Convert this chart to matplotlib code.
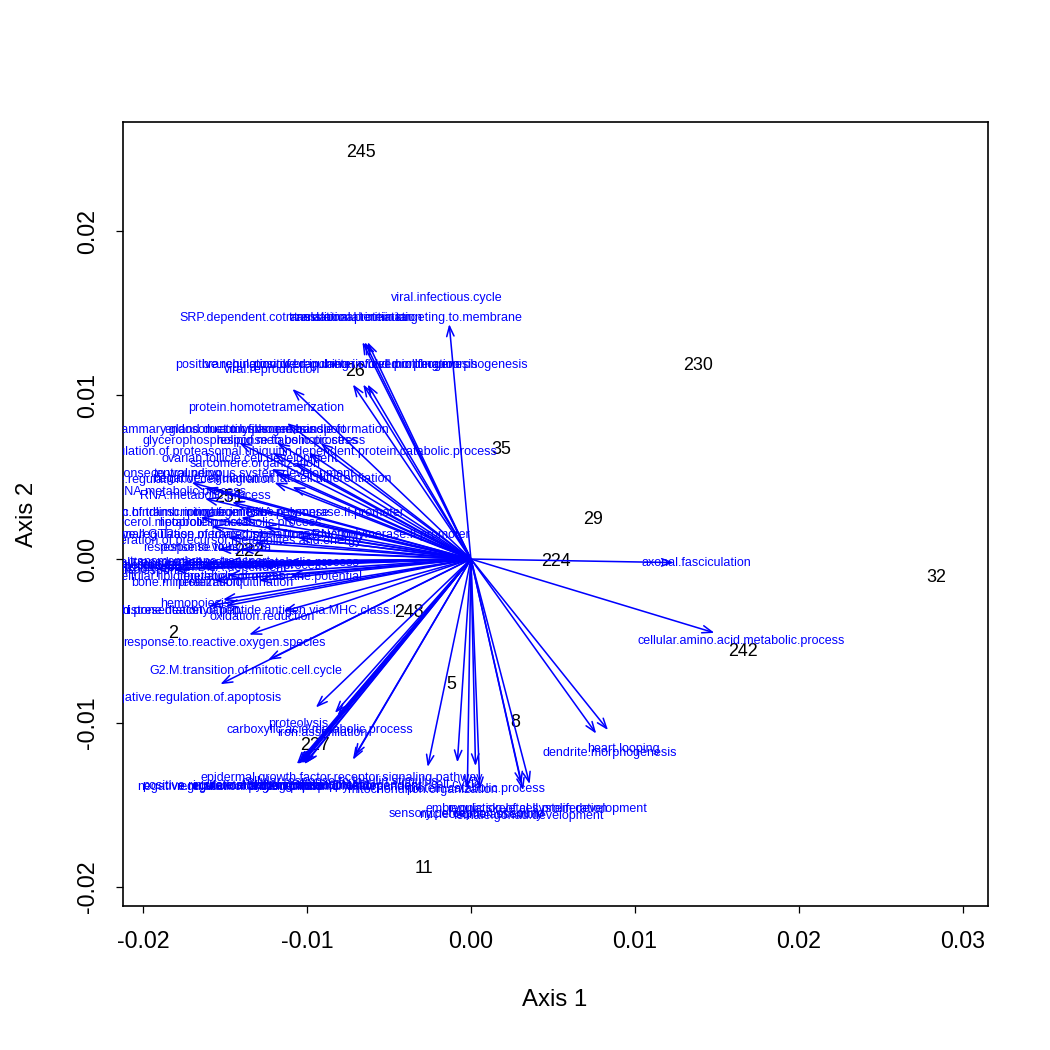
#!/usr/bin/env python3
"""
Biplot of GO terms (arrows) and samples (numbers) on the first two axes
"""
import matplotlib
matplotlib.use("Agg")
import matplotlib.pyplot as plt

plt.rcParams['font.family'] = ['Liberation Sans', 'DejaVu Sans']

# sample scores (shown as their ids)
sample_ids = ["245", "230", "26", "35", "29", "224", "32", "242", "248",
              "2", "5", "8", "227", "11", "251", "222"]
sample_x = [-0.00672, 0.01387, -0.00709, 0.00183, 0.00745, 0.00519, 0.02840, 0.01661, -0.00379,
            -0.01814, -0.00122, 0.00269, -0.00953, -0.00287, -0.01478, -0.01356]
sample_y = [0.02482, 0.01183, 0.01146, 0.00671, 0.00244, -0.00012, -0.00110, -0.00561, -0.00323,
            -0.00451, -0.00762, -0.00994, -0.01134, -0.01890, 0.00378, 0.00049]

# variable loadings (GO terms)
term_names = [
    "viral.infectious.cycle",
    "SRP.dependent.cotranslational.protein.targeting.to.membrane",
    "translational.termination",
    "translational.initiation",
    "branching.involved.in.ureteric.bud.morphogenesis",
    "positive.regulation.of.branching.involved.in.lung.morphogenesis",
    "positive.regulation.of.cell.proliferation",
    "viral.reproduction",
    "protein.homotetramerization",
    "mammary.gland.duct.morphogenesis",
    "endosome.to.lysosome.transport",
    "actin.filament.bundle.formation",
    "glycerophospholipid.metabolic.process",
    "response.to.osmotic.stress",
    "positive.regulation.of.proteasomal.ubiquitin.dependent.protein.catabolic.process",
    "ovarian.follicle.cell.development",
    "sarcomere.organization",
    "central.nervous.system.development",
    "response.to.wounding",
    "negative.regulation.of.fat.cell.differentiation",
    "negative.regulation.of.cell.migration",
    "mRNA.metabolic.process",
    "RNA.metabolic.process",
    "positive.regulation.of.transcription.from.RNA.polymerase.II.promoter",
    "embryonic.hindlimb.morphogenesis",
    "innate.immune.response",
    "glycerol.metabolic.process",
    "lipoprotein.metabolic.process",
    "negative.regulation.of.transcription.from.RNA.polymerase.II.promoter",
    "regulation.of.small.GTPase.mediated.signal.transduction",
    "generation.of.precursor.metabolites.and.energy",
    "response.to.virus",
    "response.to.hypoxia",
    "signal.transduction",
    "cell.adhesion",
    "multicellular.organismal.development",
    "regulation.of.transcription.DNA.dependent",
    "ion.transport",
    "immune.response",
    "cellular.protein.metabolic.process",
    "small.molecule.metabolic.process",
    "transmembrane.transport",
    "cellular.lipid.metabolic.process",
    "regulation.of.membrane.potential",
    "bone.mineralization",
    "protein.ubiquitination",
    "hemopoiesis",
    "antigen.processing.and.presentation.of.peptide.antigen.via.MHC.class.I",
    "histone.deacetylation",
    "oxidation.reduction",
    "response.to.reactive.oxygen.species",
    "G2.M.transition.of.mitotic.cell.cycle",
    "negative.regulation.of.apoptosis",
    "proteolysis",
    "carboxylic.acid.metabolic.process",
    "iron.assimilation",
    "epidermal.growth.factor.receptor.signaling.pathway",
    "skeletal.system.development",
    "angiogenesis",
    "in.utero.embryonic.development",
    "regulation.of.protein.phosphorylation",
    "positive.regulation.of.transcription.DNA.dependent",
    "negative.regulation.of.transcription.DNA.dependent",
    "cell.migration",
    "cellular.response.to.insulin.stimulus",
    "mitochondrion.organization",
    "cell.cycle",
    "protein.catabolic.process",
    "regulation.of.cell.proliferation",
    "embryonic.skeletal.system.development",
    "sensory.perception.of.sound",
    "nucleosome.assembly",
    "female.gonad.development",
    "dendrite.morphogenesis",
    "heart.looping",
    "cellular.amino.acid.metabolic.process",
    "axonal.fasciculation",
]
term_x = [
    -0.00147, -0.00735, -0.00700, -0.00720, -0.00800, -0.00730, -0.00700, -0.01210,
    -0.01246, -0.01570, -0.01313, -0.01020, -0.01344, -0.01100, -0.01191, -0.01350,
    -0.01313, -0.01332, -0.01894, -0.01210, -0.01802, -0.01802, -0.01619, -0.01558,
    -0.01833, -0.01283, -0.01759, -0.01405, -0.01173, -0.01649, -0.01466, -0.01710,
    -0.01558, -0.01955, -0.02108, -0.01710, -0.01833, -0.02138, -0.02016, -0.01436,
    -0.01252, -0.01649, -0.01649, -0.01222, -0.01741, -0.01436, -0.01680, -0.01662,
    -0.01772, -0.01271, -0.01503, -0.01374, -0.01698, -0.01051, -0.00922, -0.00904,
    -0.00788, -0.01142, -0.01130, -0.01160, -0.01180, -0.01150, -0.01170, -0.01120,
    -0.00800, -0.00293, -0.00092, 0.00031, 0.00342, 0.00398, -0.00024, 0.00061,
    0.00354, 0.00849, 0.00929, 0.01650, 0.01375,
]
term_y = [
    0.01592, 0.01470, 0.01470, 0.01470, 0.01183, 0.01183, 0.01183, 0.01153,
    0.00921, 0.00787, 0.00787, 0.00787, 0.00720, 0.00720, 0.00652, 0.00610,
    0.00579, 0.00518, 0.00518, 0.00488, 0.00482, 0.00409, 0.00384, 0.00281,
    0.00281, 0.00281, 0.00220, 0.00220, 0.00146, 0.00146, 0.00110, 0.00067,
    0.00067, -0.00024, -0.00043, -0.00037, -0.00055, -0.00067, -0.00073, -0.00043,
    -0.00024, -0.00018, -0.00110, -0.00110, -0.00146, -0.00146, -0.00274, -0.00317,
    -0.00317, -0.00354, -0.00512, -0.00683, -0.00848, -0.01006, -0.01043, -0.01061,
    -0.01335, -0.01384, -0.01390, -0.01384, -0.01390, -0.01384, -0.01390, -0.01384,
    -0.01360, -0.01409, -0.01378, -0.01403, -0.01525, -0.01525, -0.01555, -0.01561,
    -0.01567, -0.01183, -0.01159, -0.00500, -0.00024,
]

ARROW_FRAC = 0.9  # arrows stop short of the label position

fig = plt.figure(figsize=(7, 7), dpi=150)
ax = fig.add_axes([0.1171, 0.1371, 0.8238, 0.7467])

# samples
for sid, sx, sy in zip(sample_ids, sample_x, sample_y):
    ax.text(sx, sy, sid, ha='center', va='center', fontsize=8.6, color='black', clip_on=True)

# variables
for name, vx, vy in zip(term_names, term_x, term_y):
    ax.annotate('', xy=(vx * ARROW_FRAC, vy * ARROW_FRAC), xytext=(0, 0),
                arrowprops=dict(arrowstyle='->,head_length=0.6,head_width=0.22',
                                color='#0000ff', lw=0.75, shrinkA=0, shrinkB=0,
                                mutation_scale=8))
    ax.text(vx, vy, name, ha='center', va='center', fontsize=6, color='#0000ff', clip_on=True)

ax.set_xlim(-0.02122, 0.03153)
ax.set_ylim(-0.02116, 0.02665)
ax.set_xticks([-0.02, -0.01, 0.00, 0.01, 0.02, 0.03])
ax.set_xticklabels(["-0.02", "-0.01", "0.00", "0.01", "0.02", "0.03"])
ax.set_yticks([-0.02, -0.01, 0.00, 0.01, 0.02])
ax.set_yticklabels(["-0.02", "-0.01", "0.00", "0.01", "0.02"], rotation=90, va='center')
ax.tick_params(length=3.5, width=0.6, labelsize=11.2, pad=8)
for sp in ax.spines.values():
    sp.set_linewidth(0.8)

fig.text(555 / 1050, 1 - 1000 / 1050, "Axis 1", ha='center', va='center', fontsize=11.5)
fig.text(27 / 1050, 1 - 514 / 1050, "Axis 2", ha='center', va='center', rotation=90, fontsize=11.5)

plt.savefig("out.png", dpi=150)
plt.close()
